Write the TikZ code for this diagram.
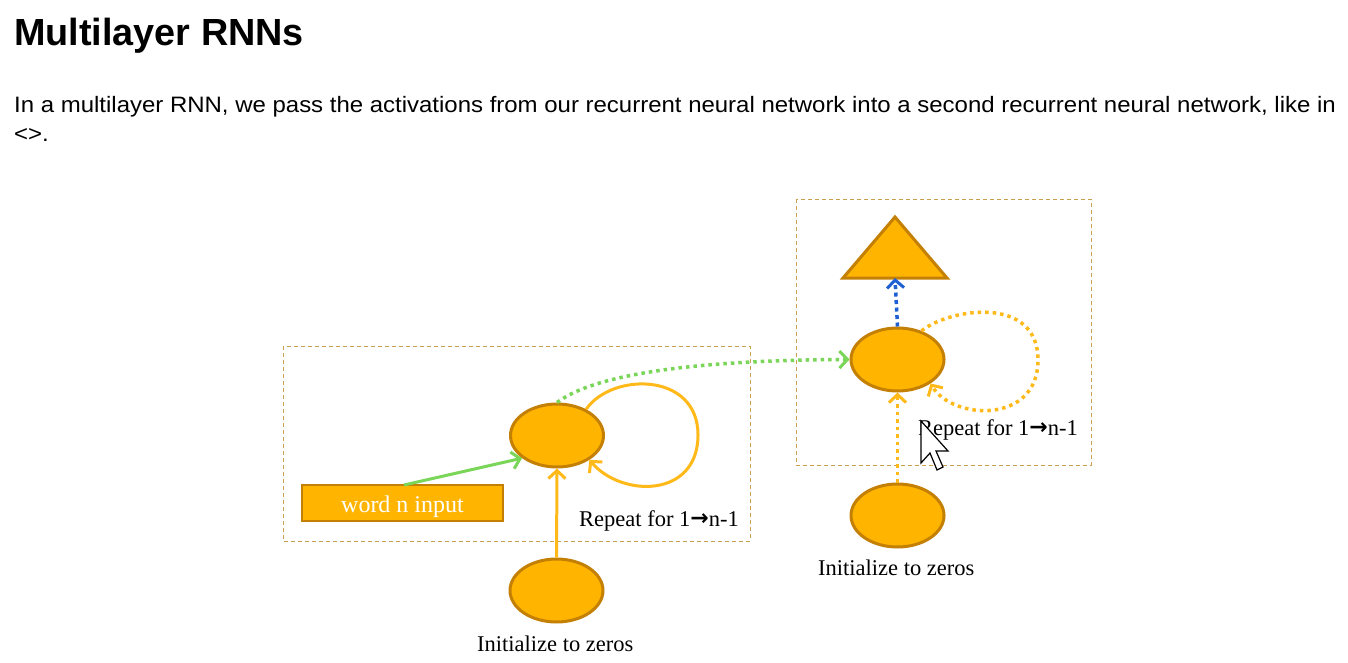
\documentclass[tikz,border=0pt]{standalone}
\usepackage{fontspec}
\setmainfont{Liberation Serif}
\newfontfamily\sansf{Liberation Sans}
\newfontfamily\arrf{DejaVu Sans}
\usetikzlibrary{shapes.geometric,arrows.meta,calc}
\definecolor{cfill}{RGB}{255,180,0}
\definecolor{cdraw}{RGB}{196,128,5}
\definecolor{corange}{RGB}{255,185,25}
\definecolor{cgreen}{RGB}{122,214,88}
\definecolor{cblue}{RGB}{30,95,210}
\definecolor{cbox}{RGB}{200,160,80}
\tikzset{
  cell/.style={ellipse, fill=cfill, draw=cdraw, line width=3pt, minimum width=93pt, minimum height=63pt, inner sep=0pt},
  inbox/.style={rectangle, fill=cfill, draw=cdraw, line width=2.5pt, minimum width=201pt, minimum height=36pt, inner sep=0pt},
  framebox/.style={draw=cbox, line width=1pt, dash pattern=on 4pt off 3pt},
  chev/.style={-{Straight Barb[length=8pt,width=17pt,line width=3pt]}},
  solidor/.style={draw=corange, line width=3pt, chev},
  dotor/.style={draw=corange, line width=3.5pt, dash pattern=on 3.5pt off 4pt, chev},
  lbl/.style={inner sep=0pt, font=\fontsize{22.5}{26}\selectfont},
}
\newcommand{\rarr}{{\arrf\bfseries\raisebox{0.5pt}{\fontsize{22}{24}\selectfont →}}}
\begin{document}
\begin{tikzpicture}[x=1pt,y=-1pt]
\useasboundingbox (0,0) rectangle (1348,663);
\fill[white] (0,0) rectangle (1348,663);
% header text
\node[inner sep=0pt, anchor=base west, font=\sansf\bfseries\fontsize{37.8}{40}\selectfont] (title) at (14,46) {Multilayer RNNs};
\node[inner sep=0pt, anchor=base west, font=\sansf\fontsize{22.3}{26}\selectfont] (body1) at (14,113) {\scalebox{1.075}[1]{In a multilayer RNN, we pass the activations from our recurrent neural network into a second recurrent neural network, like in}};
\node[inner sep=0pt, anchor=base west, font=\sansf\fontsize{22.3}{26}\selectfont] (body2) at (14,142) {\scalebox{1.075}[1]{<>.}};
% frames
\draw[framebox] (283,346) rectangle (750,541);
\draw[framebox] (796,199) rectangle (1091,465);
% left network
\node[cell] (h1) at (557,435.5) {};
\node[cell] (z1) at (556.5,590.5) {};
\node[inbox] (word) at (402.5,503) {};
\node[inner sep=0pt, anchor=base, text=white, font=\fontsize{24}{26}\selectfont] (wordtxt) at (402.5,512) {word n input};
\node[lbl, anchor=base west] (rep1) at (579,526) {Repeat for 1\rarr n-1};
\node[lbl, anchor=base west] (init1) at (477,651) {Initialize to zeros};
\draw[draw=cgreen, line width=3pt, chev] (404,485) -- (h1.213);
\draw[solidor] (z1.north) -- (h1.south);
\draw[solidor] (h1.42) .. controls (612,372) and (698,372) .. (698,435) .. controls (698,498) and (622,498) .. (h1.-37);
% right network
\node[cell] (h2) at (897.5,359.5) {};
\node[cell] (z2) at (897.5,515.5) {};
\coordinate (tri) at (895,278);
\fill[cfill, draw=cdraw, line width=3pt, line join=miter] (843,278) -- (895,217) -- (947,278) -- cycle;
\node[lbl, anchor=base west] (rep2) at (918,435) {Repeat for 1\rarr n-1};
\node[lbl, anchor=base west] (init2) at (818,575) {Initialize to zeros};
\draw[draw=cblue, line width=3.5pt, dash pattern=on 4pt off 3.5pt, chev] (h2.north) -- (tri);
\draw[dotor] (z2.north) -- (h2.south);
\draw[dotor] (h2.50) .. controls (950,308) and (1038,295) .. (1038,360) .. controls (1038,425) and (952,420) .. (h2.-36);
% inter-layer connection
\draw[draw=cgreen, line width=3.5pt, dash pattern=on 3.5pt off 4pt, chev] (h1.north) .. controls (600,370) and (720,360) .. (h2.west);
% mouse cursor
\draw[fill=white, draw=black, line width=1.2pt, line join=miter] (921,421) -- (921,463) -- (930,453) -- (937,470) -- (943,467) -- (936,451) -- (948,451) -- cycle;
\end{tikzpicture}
\end{document}
